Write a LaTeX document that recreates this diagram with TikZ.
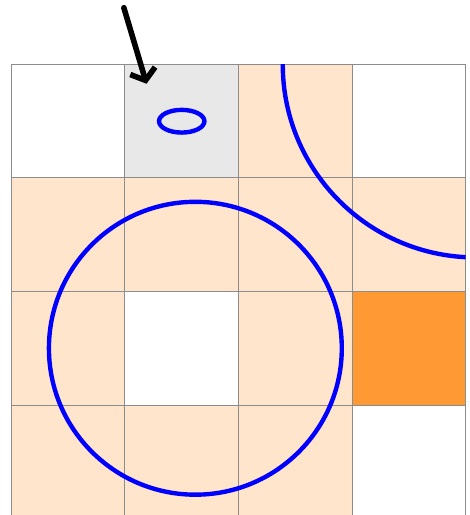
\documentclass[tikz,border=0pt]{standalone}
\usepackage{xcolor}
\usepackage{tikz}
\usetikzlibrary{arrows.meta}

\begin{document}
\begin{tikzpicture}[x=2cm, y=2cm,
    cell/.style={draw=black!45, line width=0.5pt},
    blank/.style={cell, fill=white},
    pale/.style={cell, fill=orange!20},
    hot/.style={cell, fill=orange!80},
    picked/.style={cell, fill=black!9},
    ring/.style={draw=blue, line width=2.2pt},
    pointer/.style={line width=2.8pt, line cap=round, line join=round, -{Straight Barb[length=5pt, width=13pt]}},
]
\clip (-0.101,0.031) rectangle (4.031,4.568);

% --- GRID ---
\foreach \c/\r/\s in {0/3/blank, 1/3/picked, 2/3/pale, 3/3/blank,
                      0/2/pale, 1/2/pale, 2/2/pale, 3/2/pale,
                      0/1/pale, 1/1/blank, 2/1/pale, 3/1/hot,
                      0/0/pale, 1/0/pale, 2/0/pale, 3/0/blank} {
    \draw[\s] (\c,\r) rectangle ++(1,1);
}

% --- CIRCLES ---
\draw[ring] (1.62,1.5) circle (1.29);
\begin{scope}
    \clip (0,0) rectangle (4,4);
    \draw[ring] (4.09,4) circle (1.7);
\end{scope}
\draw[ring] (1.5,3.5) ellipse (0.2 and 0.1);

% arrow into the grey cell
\coordinate (tail) at (0.99,4.5);
\coordinate (tip) at (1.19,3.83);
\draw[pointer] (tail) -- (tip);

\end{tikzpicture}
\end{document}
